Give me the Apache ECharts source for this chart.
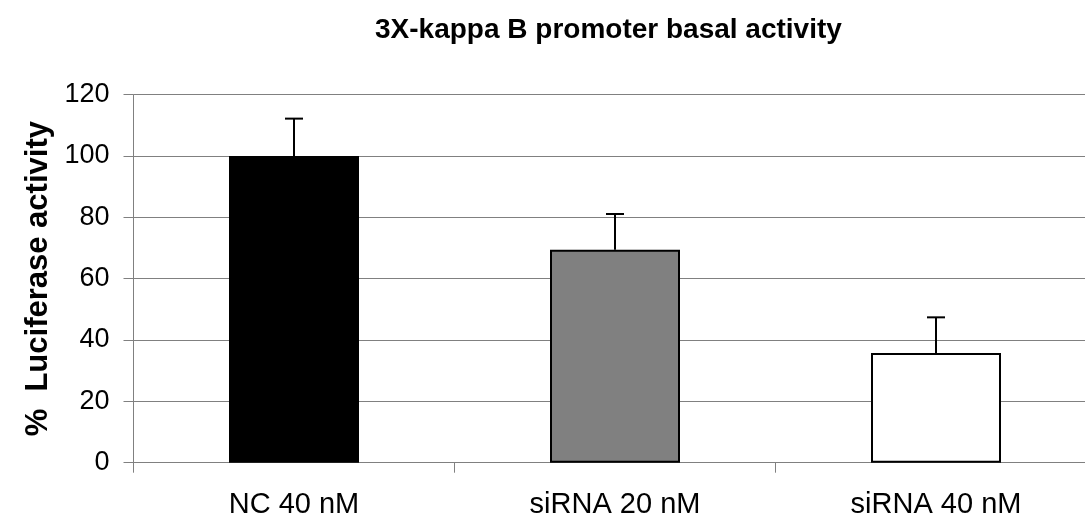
<!DOCTYPE html>
<html>
<head>
<meta charset="utf-8">
<script src="https://cdn.jsdelivr.net/npm/echarts@6/dist/echarts.min.js"></script>
<style>html,body{margin:0;padding:0;background:#fff;overflow:hidden;width:1085px;height:521px}#c{width:1097px;height:521px}</style>
</head>
<body>
<div id="c"></div>
<script>
const categories = ['NC 40 nM', 'siRNA 20 nM', 'siRNA 40 nM'];
const values = [100, 69.4, 35.8];
const errorTops = [112.2, 81.1, 47.4];
const barColors = ['#000000', '#808080', '#ffffff'];
const yTicks = [0, 20, 40, 60, 80, 100, 120];

const FONT = '"Liberation Sans", Arial, sans-serif';
const chart = echarts.init(document.getElementById('c'), null, {renderer: 'canvas'});
chart.setOption({
  animation: false,
  backgroundColor: '#fff',
  title: {
    text: '3X-kappa B promoter basal activity',
    left: 370, top: 11,
    textStyle: {fontFamily: FONT, fontSize: 28, fontWeight: 'bold', color: '#000'}
  },
  grid: {left: 133.5, top: 94.7, bottom: 58.3, right: 0.5, containLabel: false},
  xAxis: {
    type: 'category',
    data: categories,
    boundaryGap: true,
    axisLine: {lineStyle: {color: '#808080', width: 1}},
    axisTick: {show: true, length: 10, lineStyle: {color: '#808080'}},
    axisLabel: {fontFamily: FONT, fontSize: 29, color: '#000', margin: 28},
    splitLine: {show: false}
  },
  yAxis: {
    type: 'value',
    min: yTicks[0], max: yTicks[yTicks.length - 1], interval: 20,
    name: '%  Luciferase activity',
    nameLocation: 'middle',
    nameGap: 78,
    nameTextStyle: {fontFamily: FONT, fontSize: 31, fontWeight: 'bold', color: '#000'},
    axisLine: {show: true, lineStyle: {color: '#808080', width: 1}},
    axisTick: {show: true, length: 10, lineStyle: {color: '#808080'}},
    axisLabel: {fontFamily: FONT, fontSize: 27, color: '#000', margin: 24},
    splitLine: {show: true, lineStyle: {color: '#808080', width: 1}}
  },
  series: [
    {
      type: 'bar',
      barWidth: 130,
      data: values.map((v, i) => ({
        value: v,
        itemStyle: {color: barColors[i], borderColor: '#000', borderWidth: 2}
      })),
      z: 2
    },
    {
      type: 'custom',
      z: 3,
      data: values.map((v, i) => [i, v, errorTops[i]]),
      renderItem: function (params, api) {
        const base = api.coord([api.value(0), api.value(1)]);
        const top = api.coord([api.value(0), api.value(2)]);
        const x = Math.round(base[0]);
        const cap = 9;
        return {
          type: 'group',
          children: [
            {type: 'line', shape: {x1: x, y1: base[1], x2: x, y2: top[1]}, style: {stroke: '#000', lineWidth: 2}},
            {type: 'line', shape: {x1: x - cap, y1: top[1], x2: x + cap, y2: top[1]}, style: {stroke: '#000', lineWidth: 2}}
          ]
        };
      }
    }
  ]
});
</script>
</body>
</html>
